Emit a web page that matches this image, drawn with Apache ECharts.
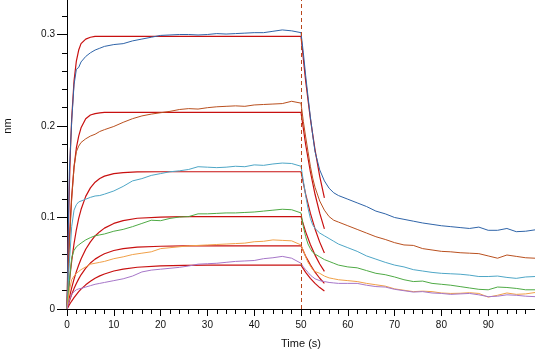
<!DOCTYPE html>
<html>
<head>
<meta charset="utf-8">
<script src="https://cdn.jsdelivr.net/npm/echarts@6/dist/echarts.min.js"></script>
<style>html,body{margin:0;padding:0;background:#fff;}#c{width:535px;height:351px;}</style>
</head>
<body>
<div id="c"></div>
<script>
// Raw sensorgram time points (s)
const rawTime = [0,0.5,1,1.5,2,2.5,3,4,5,6,7,8,
  10,12,14,16,18,20,22,24,26,28,30,32,34,36,38,40,42,44,46,48,50,
  50.5,51,51.5,52,52.5,53,54,55,56,57,58,
  60,62,64,66,68,70,72,74,76,78,80,82,84,86,88,90,92,94,96,98,100];

const blueNm = [0,0.15,0.205,0.245,0.262,0.264,0.270,0.276,0.280,0.283,0.285,0.287,
  0.289,0.290,0.293,0.295,0.297,0.299,0.2995,0.300,0.300,0.2995,0.300,0.301,0.3005,0.301,0.3015,0.302,0.302,0.3035,0.305,0.304,0.302,
  0.280,0.255,0.232,0.210,0.190,0.172,0.152,0.140,0.132,0.127,0.124,
  0.120,0.116,0.112,0.107,0.104,0.100,0.098,0.096,0.094,0.0925,0.091,0.090,0.089,0.088,0.0895,0.086,0.086,0.088,0.0845,0.085,0.0865];

const brownNm = [0,0.07,0.12,0.155,0.172,0.178,0.182,0.186,0.189,0.191,0.194,0.196,
  0.1995,0.204,0.208,0.211,0.213,0.2145,0.216,0.218,0.219,0.2185,0.220,0.221,0.2215,0.222,0.2215,0.223,0.2235,0.224,0.2245,0.227,0.225,
  0.205,0.188,0.172,0.156,0.143,0.133,0.118,0.108,0.101,0.097,0.095,
  0.091,0.087,0.083,0.079,0.076,0.0725,0.070,0.0695,0.066,0.0645,0.063,0.0625,0.0615,0.061,0.0605,0.058,0.0555,0.059,0.0575,0.056,0.0555];

const cyanNm = [0,0.05,0.09,0.108,0.114,0.117,0.118,0.120,0.122,0.1235,0.124,0.1255,
  0.129,0.134,0.140,0.1425,0.146,0.148,0.150,0.151,0.1525,0.1555,0.155,0.1545,0.155,0.156,0.1555,0.1575,0.157,0.1585,0.1595,0.159,0.156,
  0.140,0.124,0.110,0.099,0.092,0.088,0.083,0.080,0.077,0.074,0.071,
  0.067,0.063,0.058,0.0545,0.051,0.048,0.046,0.043,0.0415,0.040,0.039,0.0385,0.038,0.037,0.0355,0.0355,0.036,0.0345,0.0335,0.035,0.0355];

const greenNm = [0,0.03,0.056,0.064,0.068,0.070,0.072,0.0755,0.078,0.080,0.081,0.082,
  0.085,0.087,0.090,0.0935,0.097,0.0965,0.099,0.1005,0.101,0.104,0.104,0.1045,0.105,0.105,0.1055,0.106,0.107,0.108,0.109,0.1085,0.105,
  0.090,0.079,0.071,0.066,0.062,0.060,0.057,0.054,0.052,0.050,0.048,
  0.046,0.045,0.042,0.039,0.0375,0.035,0.032,0.030,0.0305,0.028,0.027,0.026,0.0245,0.023,0.0215,0.021,0.024,0.0235,0.0225,0.021,0.021];

const orangeNm = [0,0.02,0.032,0.036,0.039,0.041,0.043,0.046,0.049,0.050,0.051,0.052,
  0.055,0.057,0.0595,0.061,0.0625,0.066,0.067,0.068,0.069,0.0695,0.070,0.0705,0.071,0.0715,0.072,0.0735,0.074,0.0755,0.075,0.0745,0.070,
  0.064,0.057,0.051,0.047,0.043,0.041,0.039,0.036,0.034,0.033,0.032,
  0.031,0.030,0.028,0.0265,0.025,0.022,0.0205,0.019,0.0195,0.019,0.0175,0.017,0.0172,0.0178,0.017,0.013,0.015,0.0175,0.016,0.0165,0.018];

const purpleNm = [0,0.01,0.016,0.019,0.021,0.022,0.0225,0.024,0.0255,0.027,0.028,0.029,
  0.031,0.033,0.036,0.0405,0.0425,0.0435,0.0445,0.0455,0.047,0.049,0.0495,0.050,0.051,0.052,0.0525,0.053,0.055,0.056,0.0575,0.0555,0.050,
  0.046,0.043,0.040,0.037,0.035,0.033,0.031,0.030,0.029,0.0285,0.028,
  0.028,0.028,0.026,0.0245,0.024,0.0215,0.020,0.0185,0.019,0.0175,0.017,0.016,0.0165,0.017,0.0155,0.0135,0.014,0.0155,0.015,0.014,0.0135];

// Fitted curves (red)
const fitTime = [0,0.25,0.5,0.75,1,1.5,2,2.5,3,4,5,6,7,8,10,12,15,20,25,30,50,51,52,53,54,55];
const fit1 = [0,0.078,0.134,0.176,0.208,0.249,0.271,0.283,0.290,0.295,0.297,0.298,0.298,0.298,0.298,0.298,0.298,0.298,0.298,0.298,0.298,0.249,0.208,0.174,0.145,0.1215];
const fit2 = [0,0.041,0.074,0.101,0.123,0.155,0.176,0.189,0.198,0.208,0.212,0.2136,0.2144,0.2148,0.215,0.215,0.215,0.215,0.215,0.215,0.215,0.1795,0.150,0.1254,0.1047,0.0875];
const fit3 = [0,0.0153,0.0289,0.0412,0.0523,0.0713,0.0866,0.0991,0.1087,0.1231,0.1324,0.1386,0.1426,0.1452,0.1480,0.1491,0.1498,0.150,0.150,0.150,0.150,0.1253,0.1047,0.0875,0.0731,0.0611];
const fit4 = [0,0.0064,0.0123,0.0180,0.0231,0.0326,0.0409,0.0481,0.0547,0.0653,0.0734,0.0798,0.0845,0.0884,0.0935,0.0966,0.0992,0.1004,0.1009,0.101,0.101,0.0843,0.0705,0.0589,0.0492,0.0411];
const fit5 = [0,0.0044,0.0084,0.0123,0.0158,0.0223,0.0279,0.0329,0.0374,0.0446,0.0502,0.0545,0.0577,0.0604,0.0639,0.0660,0.0677,0.0686,0.0689,0.069,0.069,0.0576,0.0482,0.0402,0.0336,0.0281];
const fit6 = [0,0.0023,0.0046,0.0067,0.0087,0.0124,0.0158,0.0189,0.0217,0.0264,0.0303,0.0336,0.0362,0.0383,0.0415,0.0436,0.0456,0.0471,0.0477,0.0479,0.048,0.0401,0.0335,0.0280,0.0234,0.0196];

const dissociationStart = 50;

const rawSets = [
  {name:'s1', data: blueNm, color:'#2f64a8'},
  {name:'s2', data: brownNm, color:'#b9501f'},
  {name:'s3', data: cyanNm, color:'#4ea6c6'},
  {name:'s4', data: greenNm, color:'#4faa45'},
  {name:'s5', data: orangeNm, color:'#f0a048'},
  {name:'s6', data: purpleNm, color:'#a676c8'}
];
const fitSets = [fit1, fit2, fit3, fit4, fit5, fit6];

const zip = (xs, ys) => xs.map((x, i) => [x, ys[i]]);

const series = [];
fitSets.forEach((f, i) => {
  const s = {
    type: 'line', data: zip(fitTime, f), showSymbol: false, symbol: 'none',
    lineStyle: {color: '#c81010', width: 1.2}, z: 2, silent: true
  };
  if (i === 0) {
    s.markLine = {
      symbol: 'none', silent: true, label: {show: false},
      lineStyle: {color: '#b8461c', width: 1, type: [4, 3]},
      data: [{xAxis: dissociationStart}]
    };
  }
  series.push(s);
});
rawSets.forEach(r => {
  series.push({
    type: 'line', name: r.name, data: zip(rawTime, r.data), showSymbol: false, symbol: 'none',
    lineStyle: {color: r.color, width: 1}, z: 3, silent: true
  });
});

const FONT = 'Liberation Sans, Arial, sans-serif';
const labelFont = {fontFamily: FONT, fontSize: 10, color: '#111'};
const Y_MAX = 0.4;   // axis extends beyond the top of the picture

const chart = echarts.init(document.getElementById('c'), null, {renderer: 'canvas'});
chart.setOption({
  animation: false,
  backgroundColor: '#fff',
  grid: {left: 67, right: 0, top: -57, bottom: 42, outerBoundsMode: 'none'},
  xAxis: {
    type: 'value', min: 0, max: 100, interval: 10,
    name: 'Time (s)', nameLocation: 'middle', nameGap: 29,
    nameTextStyle: {fontFamily: FONT, fontSize: 11, color: '#111'},
    axisLine: {show: true, onZero: false, lineStyle: {color: '#000', width: 1}},
    axisTick: {show: true, length: 7, lineStyle: {color: '#000', width: 1}},
    minorTick: {show: true, splitNumber: 5, length: 5, lineStyle: {color: '#000', width: 1}},
    splitLine: {show: false},
    axisLabel: Object.assign({margin: 11, showMaxLabel: false,
      formatter: v => String(v)}, labelFont)
  },
  yAxis: {
    type: 'value', min: 0, max: Y_MAX, interval: 0.1,
    name: 'nm', nameLocation: 'middle', nameGap: 54, nameRotate: 90,
    nameTextStyle: {fontFamily: FONT, fontSize: 11, color: '#111'},
    axisLine: {show: true, onZero: false, lineStyle: {color: '#000', width: 1}},
    axisTick: {show: true, length: 10, lineStyle: {color: '#000', width: 1}},
    minorTick: {show: true, splitNumber: 5, length: 5, lineStyle: {color: '#000', width: 1}},
    splitLine: {show: false},
    axisLabel: Object.assign({margin: 12, showMaxLabel: false,
      formatter: v => (v === 0 ? '0' : String(+v.toFixed(1)))}, labelFont)
  },
  series: series
});
</script>
</body>
</html>
